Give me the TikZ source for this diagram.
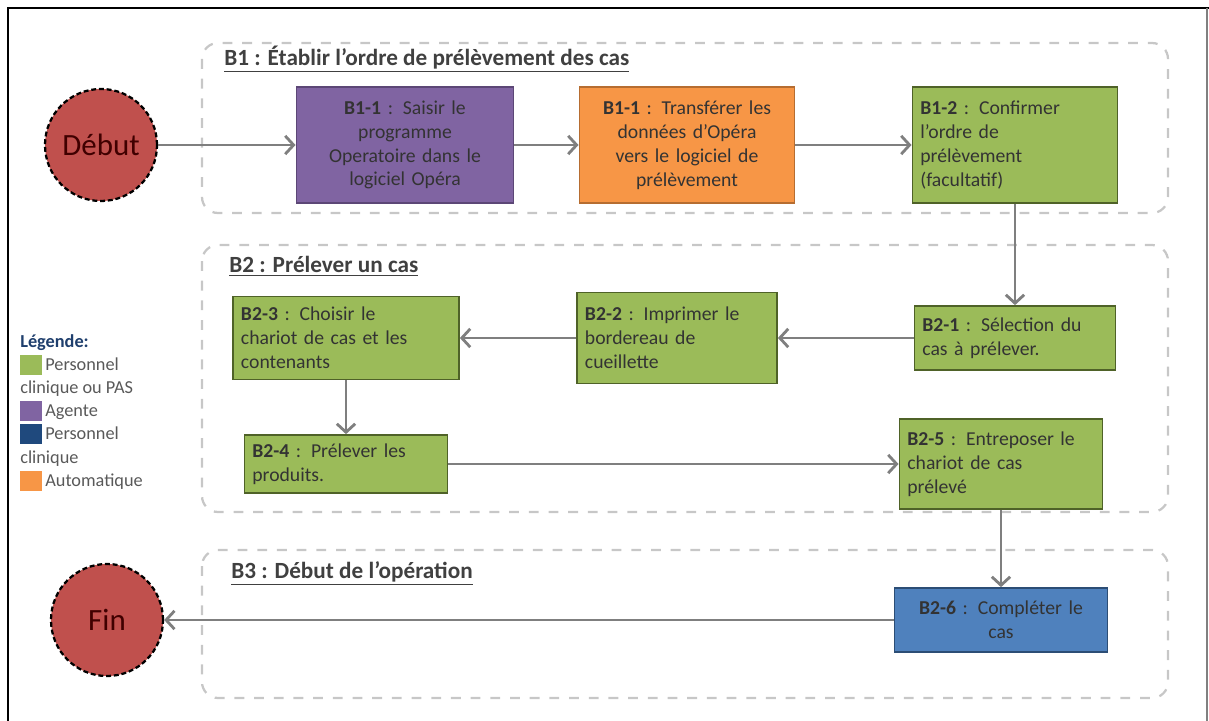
\documentclass[tikz,border=0pt]{standalone}
\usepackage{fontspec}
\setmainfont{Carlito}
\usetikzlibrary{arrows.meta}

\definecolor{vertcas}{HTML}{9BBB59}
\definecolor{vertbord}{HTML}{4F6228}
\definecolor{violetag}{HTML}{8064A2}
\definecolor{violetbord}{HTML}{5C4776}
\definecolor{orangeauto}{HTML}{F79646}
\definecolor{orangebord}{HTML}{B66D31}
\definecolor{bleucas}{HTML}{4F81BD}
\definecolor{bleubord}{HTML}{2C4D75}
\definecolor{bleuleg}{HTML}{1F497D}
\definecolor{rougecas}{HTML}{C0504D}
\definecolor{grisfleche}{HTML}{7F7F7F}
\definecolor{legtitre}{HTML}{1F3F6D}

\newcommand{\carre}[1]{\textcolor{#1}{\rule[-0.25em]{0.55cm}{1.1em}}}

\begin{document}
\begin{tikzpicture}[x=0.025cm, y=-0.025cm,
    etape/.style={rectangle, line width=1.2pt, inner xsep=0.2cm, inner ysep=2pt,
        align=left, text=black!80, font=\fontsize{14}{17}\selectfont},
    agente/.style={etape, fill=violetag, draw=violetbord, align=center},
    automatique/.style={etape, fill=orangeauto, draw=orangebord, align=center},
    clinpas/.style={etape, fill=vertcas, draw=vertbord},
    clinique/.style={etape, fill=bleucas, draw=bleubord, align=center},
    extremite/.style={circle, fill=rougecas, draw=black, dash pattern=on 3.5pt off 2pt,
        line width=1.6pt, minimum size=2.8cm, text=red!25!black,
        font=\fontsize{22}{26}\selectfont},
    fleche/.style={-{Straight Barb[length=6pt,width=13pt]}, line width=2pt, draw=grisfleche},
    groupe/.style={draw=black!22, dash pattern=on 7pt off 7pt, line width=1.6pt,
        rounded corners=0.4cm},
    titre/.style={anchor=west, inner sep=0, text=black!75,
        font=\fontsize{16.5}{19}\selectfont\bfseries}]
    \useasboundingbox (0,0) rectangle (1209,721);

    % Cadre
    \draw[line width=2pt] (8,721) -- (8,8) -- (1209,8);
    \draw[black!50, line width=0.8pt] (1207,8) -- (1207,721);

    % Groupes
    \draw[groupe] (202,43) rectangle (1168,213);
    \draw[groupe] (202,245) rectangle (1168,512);
    \draw[groupe] (202,550) rectangle (1168,698);
    \node[titre] (t1) at (224,59) {\underline{B1 : Établir l'ordre de prélèvement des cas}};
    \node[titre] (t2) at (229,266) {\underline{B2 : Prélever un cas}};
    \node[titre] (t3) at (231,573) {\underline{B3 : Début de l'opération}};

    % Debut et fin
    \node[extremite] (debut) at (101,145) {Début};
    \node[extremite] (fin) at (107,620) {Fin};

    % Etapes B1
    \node[agente, text width=5.03cm, minimum height=2.9cm] (b11a) at (405,145)
        {\textbf{B1-1} : Saisir le\\programme\\Operatoire dans le\\logiciel Opéra};
    \node[automatique, text width=4.98cm, minimum height=2.9cm] (b11b) at (687,145)
        {\textbf{B1-1} : Transférer les\\données d'Opéra\\vers le logiciel de\\prélèvement};
    \node[clinpas, text width=4.73cm, minimum height=2.9cm] (b12) at (1015,145)
        {\textbf{B1-2} : Confirmer\\l'ordre de\\prélèvement\\(facultatif)};

    % Etapes B2
    \node[clinpas, text width=4.63cm, minimum height=1.6cm] (b21) at (1015,338)
        {\textbf{B2-1} : Sélection du\\cas à prélever.};
    \node[clinpas, text width=4.6cm, minimum height=2.275cm] (b22) at (677,338)
        {\textbf{B2-2} : Imprimer le\\bordereau de\\cueillette};
    \node[clinpas, text width=5.25cm, minimum height=2.075cm] (b23) at (346,338)
        {\textbf{B2-3} : Choisir le\\chariot de cas et les\\contenants};
    \node[clinpas, text width=4.68cm, minimum height=1.45cm] (b24) at (346,464)
        {\textbf{B2-4} : Prélever les\\produits.};
    \node[clinpas, text width=4.68cm, minimum height=2.25cm] (b25) at (1001,464)
        {\textbf{B2-5} : Entreposer le\\chariot de cas\\prélevé};
    \node[clinique, text width=4.93cm, minimum height=1.6cm] (b26) at (1001,620)
        {\textbf{B2-6} : Compléter le\\cas};

    % Legende
    \node[anchor=north west, inner sep=0, align=left, text=black!65,
        font=\fontsize{13}{16.5}\selectfont] (legende) at (20,334)
        {{\bfseries\color{legtitre}Légende:}\\
         \carre{vertcas}\,Personnel\\clinique ou PAS\\
         \carre{violetag}\,Agente\\
         \carre{bleuleg}\,Personnel\\clinique\\
         \carre{orangeauto}\,Automatique};

    % Fleches
    \draw[fleche] (debut) -- (b11a);
    \draw[fleche] (b11a) -- (b11b);
    \draw[fleche] (b11b) -- (b12);
    \draw[fleche] (b12) -- (b21);
    \draw[fleche] (b21) -- (b22);
    \draw[fleche] (b22) -- (b23);
    \draw[fleche] (b23) -- (b24);
    \draw[fleche] (b24) -- (b25);
    \draw[fleche] (b25) -- (b26);
    \draw[fleche] (b26) -- (fin);
\end{tikzpicture}
\end{document}
